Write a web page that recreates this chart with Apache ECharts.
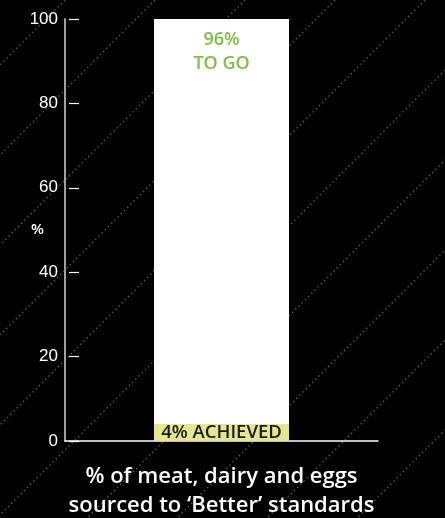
<!DOCTYPE html>
<html>
<head>
<meta charset="utf-8">
<script src="https://cdn.jsdelivr.net/npm/echarts@6/dist/echarts.min.js"></script>
<style>
  html, body { margin: 0; padding: 0; background: #000; }
  #chart { width: 445px; height: 518px; }
</style>
</head>
<body>
<div id="chart"></div>
<script>
// Single stacked column: share achieved vs share still to go
const categories = ['% of meat, dairy and eggs\nsourced to \u2018Better\u2019 standards'];
const achieved = [4];
const toGo = [96];
const yTicks = [0, 20, 40, 60, 80, 100];

const chart = echarts.init(document.getElementById('chart'), null, { renderer: 'canvas' });

// Diagonal dotted background stripes
const W = 445, H = 518;
const stripes = [];
for (let c = 65; c < W + H + 90; c += 90) {
  stripes.push({
    type: 'line',
    z: -10,
    silent: true,
    shape: { x1: c, y1: 0, x2: 0, y2: c },
    style: { stroke: '#6b6b1a', lineWidth: 1.2, lineDash: [1.5, 3] }
  });
}

const font = '"Open Sans", "Noto Sans", sans-serif';

chart.setOption({
  backgroundColor: '#000',
  animation: false,
  graphic: stripes,
  grid: { left: 65, right: 67, top: 19, bottom: 77, containLabel: false, outerBoundsMode: 'none' },
  xAxis: {
    type: 'category',
    data: categories,
    axisLine: { show: true, lineStyle: { color: '#ffffff', width: 1.5 } },
    axisTick: { show: false },
    axisLabel: {
      color: '#ffffff',
      fontFamily: font,
      fontWeight: 600,
      fontSize: 22,
      lineHeight: 29,
      margin: 21
    }
  },
  yAxis: [
    {
      type: 'value',
      min: 0,
      max: 100,
      interval: 20,
      name: '%',
      nameLocation: 'middle',
      nameRotate: 0,
      nameGap: 21,
      nameMoveOverlap: false,
      nameTextStyle: { color: '#ffffff', fontFamily: font, fontWeight: 600, fontSize: 15 },
      axisLine: { show: true, lineStyle: { color: '#a0a0a0', width: 2 } },
      axisTick: { show: false },
      splitLine: { show: false },
      axisLabel: {
        color: '#ffffff',
        fontFamily: '"Liberation Sans", Arial, sans-serif',
        fontSize: 17,
        margin: 7,
        formatter: v => (yTicks.includes(v) ? String(v) : '')
      }
    },
    {
      type: 'value',
      min: 0,
      max: 100,
      interval: 20,
      position: 'left',
      offset: -4,
      axisLine: { show: false },
      axisTick: { show: true, inside: true, length: 10, lineStyle: { color: '#ffffff', width: 1.2 } },
      axisLabel: { show: false },
      splitLine: { show: false }
    }
  ],
  series: [
    {
      name: 'Achieved',
      type: 'bar',
      stack: 'total',
      data: achieved,
      barWidth: 135,
      itemStyle: { color: '#e6e68f' },
      label: {
        show: true,
        position: 'inside',
        formatter: p => p.value + '% ACHIEVED',
        color: '#1a1a1a',
        fontFamily: font,
        fontWeight: 600,
        fontSize: 18.5
      }
    },
    {
      name: 'To go',
      type: 'bar',
      stack: 'total',
      data: toGo,
      barWidth: 135,
      itemStyle: { color: '#ffffff' },
      label: {
        show: true,
        position: 'insideTop',
        distance: 9,
        formatter: p => p.value + '%\nTO GO',
        color: '#7ac143',
        fontFamily: font,
        fontWeight: 600,
        fontSize: 18,
        lineHeight: 24
      }
    }
  ]
});
</script>
</body>
</html>
